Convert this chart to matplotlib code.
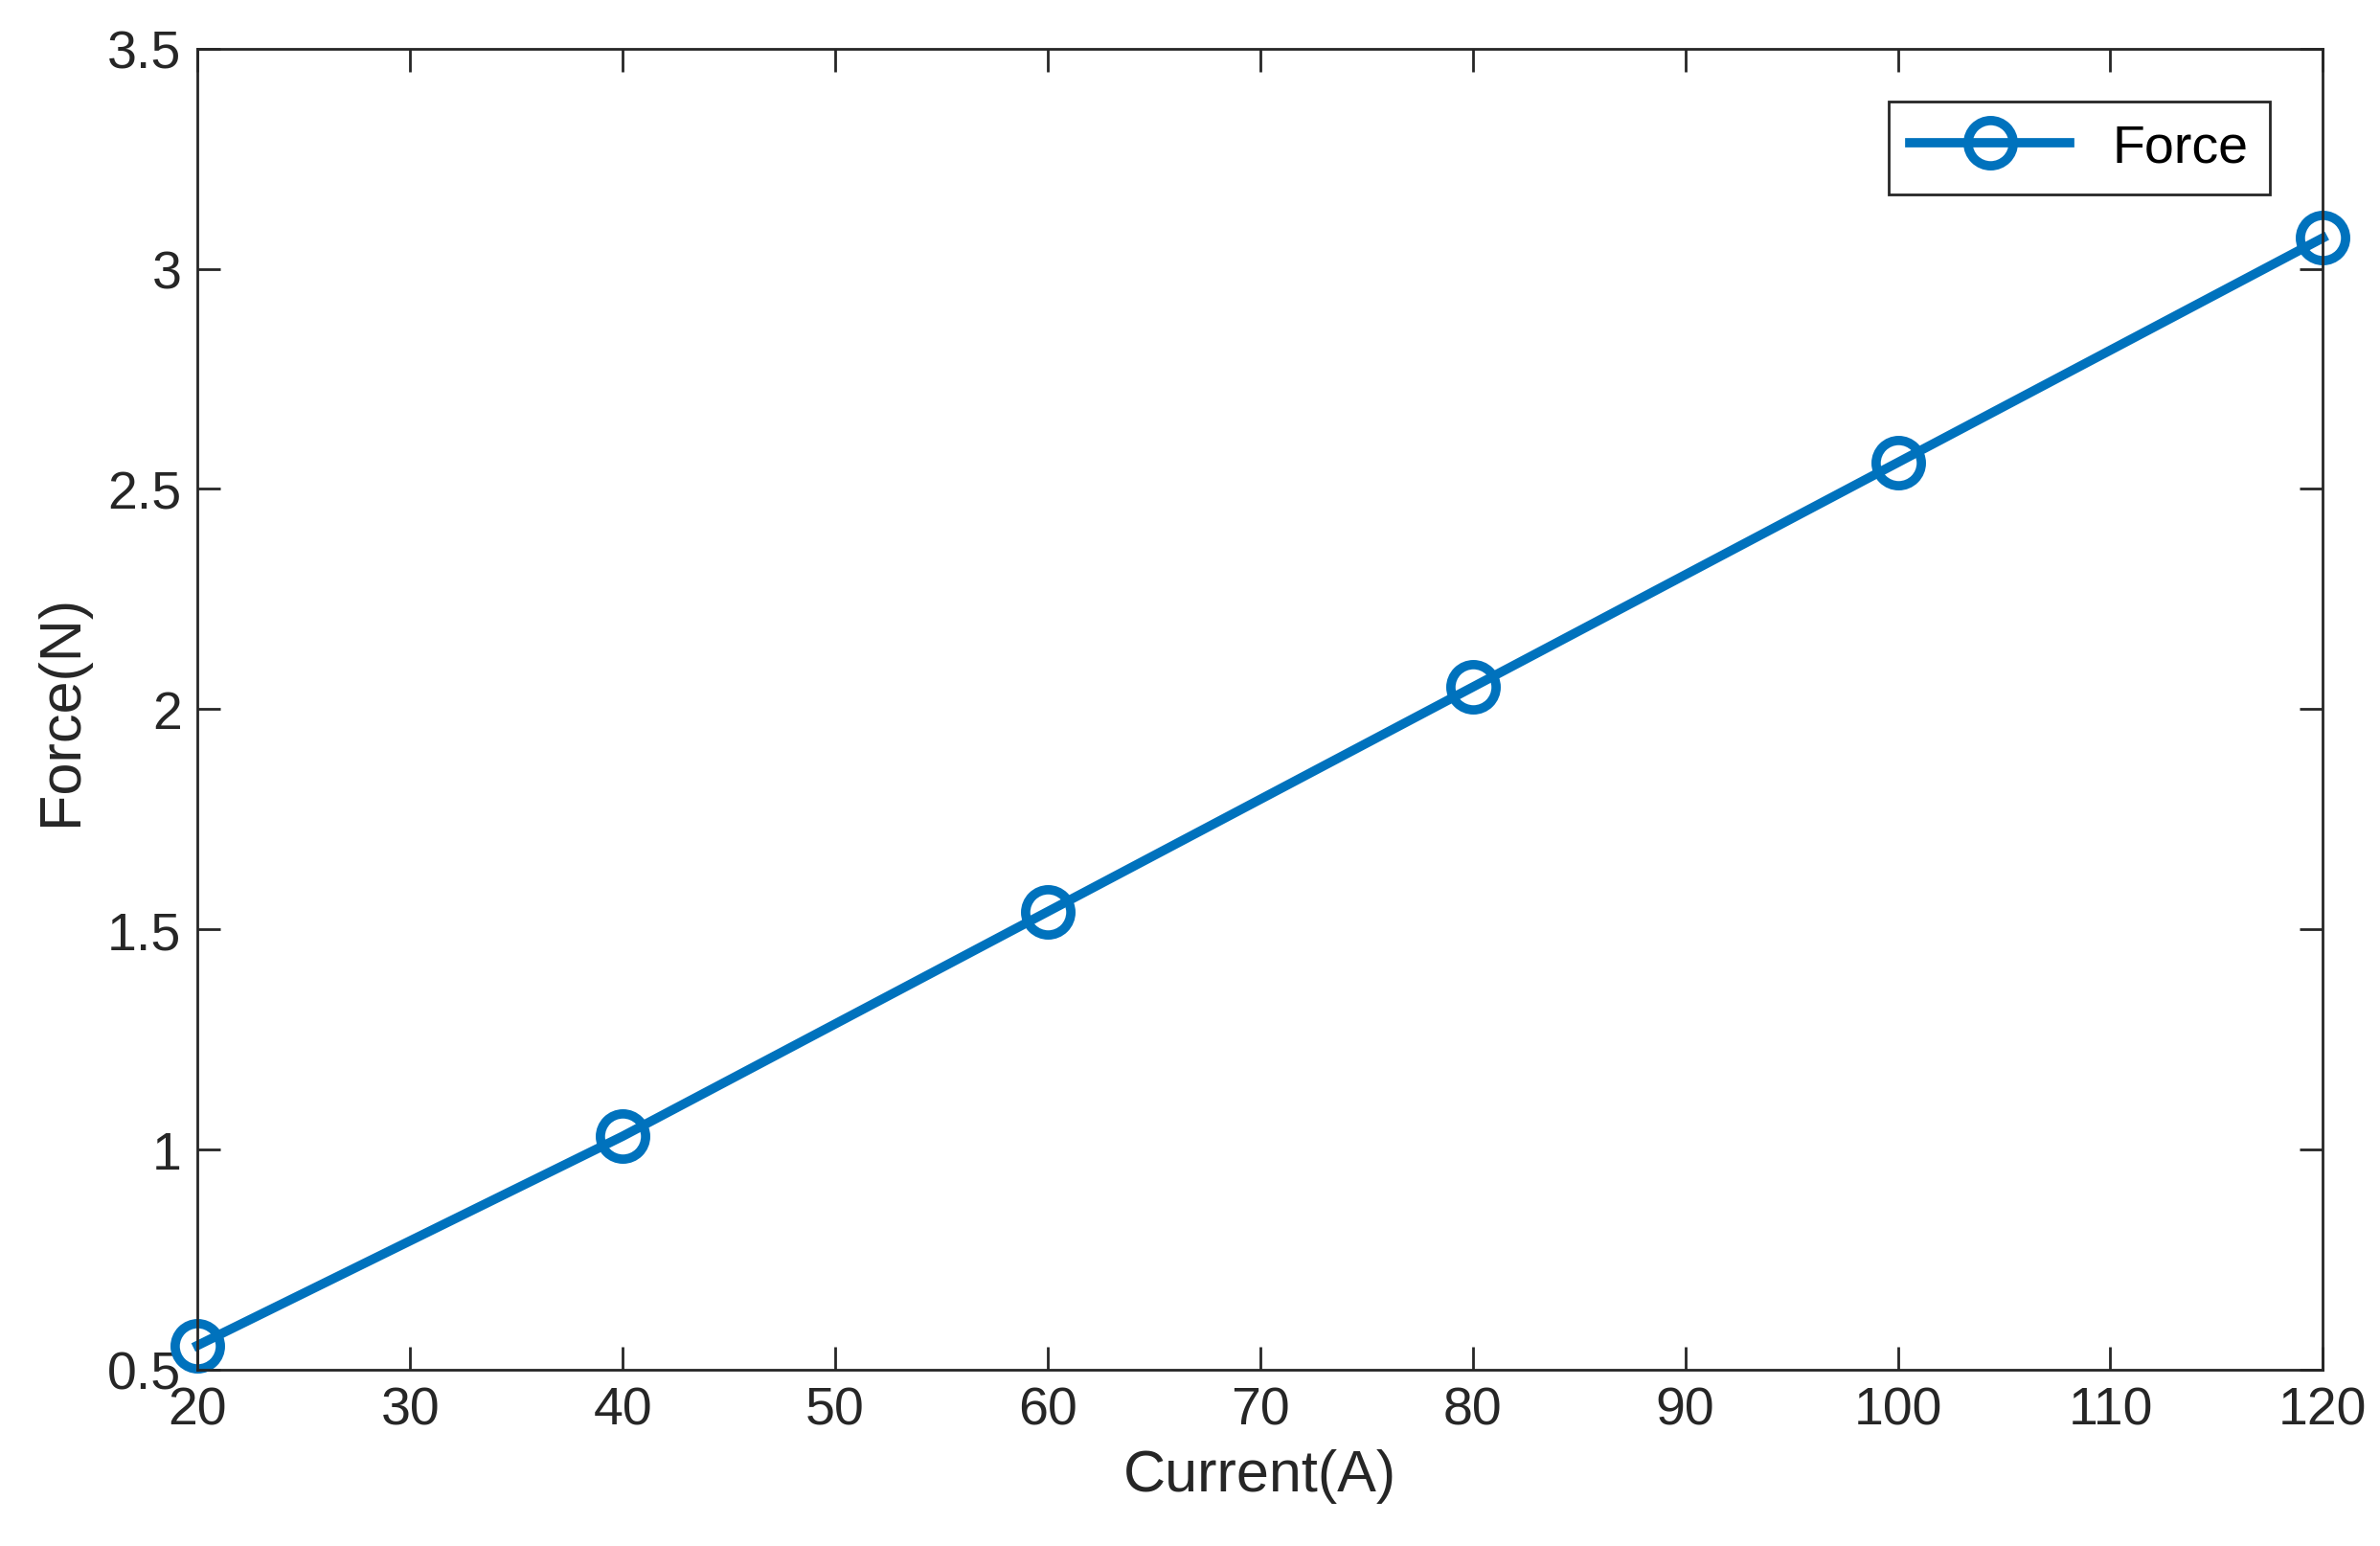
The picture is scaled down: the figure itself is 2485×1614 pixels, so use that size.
import matplotlib
matplotlib.use("Agg")
import matplotlib.pyplot as plt

current = [20, 40, 60, 80, 100, 120]
force = [0.555, 1.03, 1.54, 2.05, 2.56, 3.07]

plt.rcParams["font.family"] = ["Liberation Sans", "DejaVu Sans"]

fig = plt.figure(figsize=(24.85, 16.15), dpi=100)
ax = fig.add_axes([0.083, 0.114, 0.893, 0.854])
ax.plot(current, force, color="#0072BD", linewidth=7, marker="o", clip_on=False,
        markersize=34, markerfacecolor="none", markeredgewidth=7, label="Force")

ax.set_xlim(20, 120)
ax.set_ylim(0.5, 3.5)
ax.set_xticks(range(20, 121, 10))
ax.set_yticks([0.5, 1, 1.5, 2, 2.5, 3, 3.5])
ax.set_yticklabels(["0.5", "1", "1.5", "2", "2.5", "3", "3.5"])
ax.tick_params(direction="in", length=17, width=2, labelsize=40, top=True, right=True,
               colors="#262626", pad=12)
for s in ax.spines.values():
    s.set_linewidth(2)
    s.set_color("#262626")
ax.set_xlabel("Current(A)", fontsize=44, color="#262626", labelpad=10)
ax.set_ylabel("Force(N)", fontsize=44, color="#262626", labelpad=14)

leg = ax.legend(loc="upper right", fontsize=40, fancybox=False, edgecolor="#262626",
                handlelength=3, borderaxespad=1.0, framealpha=1)
leg.get_frame().set_linewidth(2)

fig.savefig("out.png", dpi=100, facecolor="white")
